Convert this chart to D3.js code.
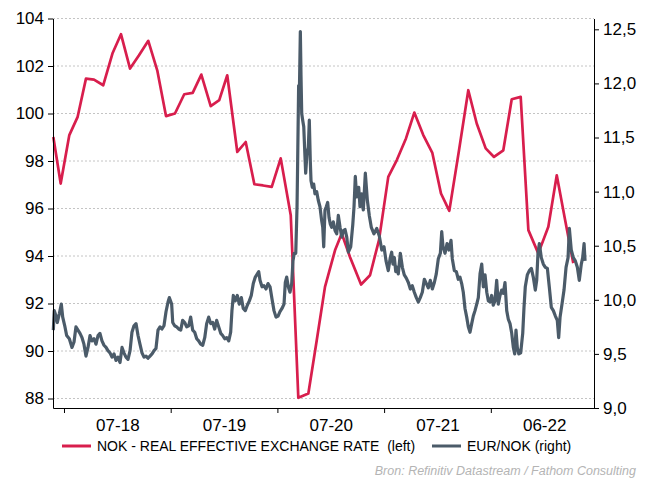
<!DOCTYPE html>
<html>
<head>
<meta charset="utf-8">
<script src="https://cdn.jsdelivr.net/npm/d3@7"></script>
<style>
  body { margin: 0; background: #fff; }
  svg text { font-family: "Liberation Sans", Arial, sans-serif; }
  .plotAxis path, .plotAxis line { stroke: #000; }
  .plotAxis text { font-size: 17px; fill: #000; }
</style>
</head>
<body>
<svg id="chart" width="652" height="479"></svg>
<script>
"use strict";

const width = 652;
const height = 479;
const plot = { left: 53, right: 594, top: 18.5, bottom: 408 };

// axes
const leftTicks = [88, 90, 92, 94, 96, 98, 100, 102, 104];
const rightTicks = [9.0, 9.5, 10.0, 10.5, 11.0, 11.5, 12.0, 12.5];
const rightTickLabels = ["9,0", "9,5", "10,0", "10,5", "11,0", "11,5", "12,0", "12,5"];
const yearTicks = [2018, 2019, 2020, 2021, 2022];
const xLabelPos = [2018.5, 2019.5, 2020.5, 2021.5, 2022.5];
const xLabels = ["07-18", "07-19", "07-20", "07-21", "06-22"];
const seriesNames = ["NOK - REAL EFFECTIVE EXCHANGE RATE  (left)", "EUR/NOK (right)"];

// NOK real effective exchange rate (left axis), time in decimal years
const redT = [2017.900, 2017.969, 2018.050, 2018.128, 2018.206, 2018.281, 2018.368, 2018.456, 2018.534, 2018.619,
    2018.703, 2018.790, 2018.874, 2018.956, 2019.040, 2019.127, 2019.206, 2019.287, 2019.375, 2019.455,
    2019.530, 2019.624, 2019.703, 2019.784, 2019.865, 2019.947, 2020.031, 2020.125, 2020.196, 2020.290,
    2020.368, 2020.446, 2020.540, 2020.603, 2020.680, 2020.784, 2020.868, 2020.952, 2021.039, 2021.118,
    2021.205, 2021.283, 2021.367, 2021.452, 2021.533, 2021.611, 2021.702, 2021.789, 2021.868, 2021.952,
    2022.030, 2022.117, 2022.196, 2022.280, 2022.352, 2022.445, 2022.539, 2022.618, 2022.695, 2022.773];
const redV = [99.01, 97.05, 99.09, 99.86, 101.47, 101.43, 101.19, 102.55, 103.34, 101.89,
    102.45, 103.06, 101.82, 99.89, 100.00, 100.81, 100.87, 101.64, 100.31, 100.56,
    101.61, 98.38, 98.80, 97.02, 96.97, 96.91, 98.11, 95.72, 88.03, 88.21,
    90.43, 92.70, 94.24, 94.95, 93.96, 92.80, 93.19, 94.67, 97.33, 98.03,
    98.95, 100.04, 99.09, 98.34, 96.63, 95.90, 98.45, 100.98, 99.58, 98.53,
    98.17, 98.45, 100.60, 100.70, 95.09, 94.11, 95.23, 97.40, 95.55, 93.70];

// EUR/NOK (right axis)
const grayT = [2017.900, 2017.909, 2017.925, 2017.937, 2017.956, 2017.975, 2017.988, 2018.007, 2018.025, 2018.050,
    2018.075, 2018.094, 2018.112, 2018.131, 2018.150, 2018.169, 2018.187, 2018.206, 2018.225, 2018.244,
    2018.262, 2018.281, 2018.300, 2018.319, 2018.337, 2018.356, 2018.375, 2018.394, 2018.412, 2018.431,
    2018.450, 2018.469, 2018.487, 2018.506, 2018.525, 2018.544, 2018.562, 2018.581, 2018.600, 2018.619,
    2018.637, 2018.656, 2018.675, 2018.694, 2018.712, 2018.731, 2018.750, 2018.769, 2018.787, 2018.806,
    2018.825, 2018.844, 2018.862, 2018.881, 2018.900, 2018.918, 2018.937, 2018.956, 2018.975, 2018.987,
    2019.009, 2019.019, 2019.037, 2019.056, 2019.075, 2019.094, 2019.112, 2019.131, 2019.150, 2019.169,
    2019.187, 2019.206, 2019.225, 2019.244, 2019.262, 2019.281, 2019.300, 2019.319, 2019.337, 2019.356,
    2019.375, 2019.394, 2019.412, 2019.431, 2019.450, 2019.469, 2019.487, 2019.506, 2019.525, 2019.544,
    2019.562, 2019.574, 2019.587, 2019.605, 2019.624, 2019.643, 2019.662, 2019.680, 2019.699, 2019.718,
    2019.737, 2019.755, 2019.774, 2019.793, 2019.812, 2019.825, 2019.837, 2019.856, 2019.874, 2019.893,
    2019.912, 2019.931, 2019.949, 2019.968, 2019.987, 2020.006, 2020.024, 2020.043, 2020.062, 2020.074,
    2020.087, 2020.102, 2020.118, 2020.134, 2020.146, 2020.158, 2020.172, 2020.184, 2020.190, 2020.199,
    2020.205, 2020.215, 2020.221, 2020.228, 2020.237, 2020.247, 2020.256, 2020.265, 2020.277, 2020.290,
    2020.299, 2020.308, 2020.315, 2020.327, 2020.340, 2020.352, 2020.368, 2020.383, 2020.399, 2020.415,
    2020.425, 2020.434, 2020.446, 2020.458, 2020.471, 2020.484, 2020.496, 2020.509, 2020.524, 2020.540,
    2020.556, 2020.571, 2020.587, 2020.603, 2020.618, 2020.634, 2020.650, 2020.665, 2020.687, 2020.706,
    2020.718, 2020.730, 2020.743, 2020.762, 2020.774, 2020.790, 2020.805, 2020.824, 2020.843, 2020.861,
    2020.880, 2020.905, 2020.931, 2020.955, 2020.978, 2020.999, 2021.018, 2021.039, 2021.058, 2021.071,
    2021.083, 2021.096, 2021.109, 2021.121, 2021.133, 2021.152, 2021.171, 2021.189, 2021.208, 2021.227,
    2021.246, 2021.264, 2021.283, 2021.302, 2021.321, 2021.339, 2021.358, 2021.377, 2021.396, 2021.414,
    2021.433, 2021.452, 2021.471, 2021.489, 2021.508, 2021.527, 2021.540, 2021.552, 2021.571, 2021.590,
    2021.608, 2021.627, 2021.639, 2021.658, 2021.677, 2021.695, 2021.711, 2021.727, 2021.742, 2021.758,
    2021.774, 2021.789, 2021.805, 2021.821, 2021.836, 2021.852, 2021.868, 2021.883, 2021.899, 2021.915,
    2021.930, 2021.946, 2021.962, 2021.977, 2021.993, 2022.008, 2022.023, 2022.039, 2022.055, 2022.070,
    2022.086, 2022.102, 2022.117, 2022.133, 2022.149, 2022.164, 2022.180, 2022.196, 2022.211, 2022.224,
    2022.236, 2022.248, 2022.262, 2022.280, 2022.299, 2022.311, 2022.323, 2022.342, 2022.361, 2022.380,
    2022.398, 2022.417, 2022.430, 2022.442, 2022.455, 2022.473, 2022.492, 2022.511, 2022.530, 2022.548,
    2022.567, 2022.586, 2022.605, 2022.623, 2022.636, 2022.649, 2022.667, 2022.686, 2022.705, 2022.724,
    2022.736, 2022.754, 2022.773, 2022.792, 2022.811, 2022.829, 2022.848, 2022.861, 2022.874, 2022.883];
const grayV = [9.72, 9.90, 9.85, 9.79, 9.87, 9.96, 9.84, 9.76, 9.67, 9.64,
    9.56, 9.61, 9.75, 9.72, 9.69, 9.65, 9.59, 9.48, 9.56, 9.67,
    9.62, 9.64, 9.59, 9.67, 9.69, 9.62, 9.58, 9.56, 9.53, 9.51,
    9.47, 9.50, 9.44, 9.47, 9.42, 9.56, 9.51, 9.47, 9.45, 9.53,
    9.70, 9.76, 9.78, 9.67, 9.59, 9.51, 9.47, 9.48, 9.46, 9.48,
    9.50, 9.53, 9.55, 9.72, 9.75, 9.73, 9.76, 9.89, 9.98, 10.02,
    9.96, 9.79, 9.76, 9.75, 9.73, 9.72, 9.81, 9.79, 9.75, 9.76,
    9.84, 9.72, 9.70, 9.64, 9.62, 9.59, 9.58, 9.65, 9.78, 9.84,
    9.78, 9.79, 9.73, 9.81, 9.75, 9.69, 9.67, 9.64, 9.65, 9.62,
    9.70, 9.90, 10.04, 9.99, 10.04, 9.96, 10.02, 9.92, 9.90, 9.95,
    9.99, 10.04, 10.15, 10.21, 10.24, 10.26, 10.18, 10.12, 10.13, 10.10,
    10.15, 10.12, 10.01, 9.90, 9.84, 9.85, 9.89, 9.92, 9.96, 10.16,
    10.21, 10.12, 10.07, 10.15, 10.36, 10.43, 10.43, 10.86, 11.29, 11.98,
    11.85, 12.48, 12.08, 11.72, 11.66, 11.60, 11.38, 11.17, 11.35, 11.41,
    11.66, 11.29, 11.10, 11.04, 11.07, 10.98, 11.00, 10.92, 10.86, 10.73,
    10.67, 10.49, 10.83, 10.86, 10.90, 10.76, 10.70, 10.67, 10.72, 10.64,
    10.61, 10.78, 10.67, 10.58, 10.64, 10.65, 10.58, 10.44, 10.49, 10.69,
    10.86, 11.14, 10.95, 11.04, 10.86, 10.98, 10.83, 11.17, 10.92, 10.78,
    10.67, 10.61, 10.66, 10.59, 10.46, 10.49, 10.36, 10.27, 10.39, 10.44,
    10.33, 10.39, 10.26, 10.30, 10.24, 10.43, 10.30, 10.23, 10.20, 10.16,
    10.10, 10.13, 10.07, 10.02, 9.98, 10.02, 10.07, 10.19, 10.15, 10.11,
    10.18, 10.10, 10.16, 10.24, 10.38, 10.43, 10.63, 10.49, 10.43, 10.52,
    10.46, 10.55, 10.38, 10.27, 10.26, 10.19, 10.21, 10.15, 10.07, 9.92,
    9.84, 9.75, 9.70, 9.78, 9.85, 9.90, 9.96, 10.02, 10.24, 10.33,
    10.12, 10.23, 10.07, 9.99, 9.98, 10.04, 9.95, 9.99, 10.18, 9.96,
    10.04, 10.09, 10.06, 10.16, 9.90, 9.82, 9.78, 9.69, 9.56, 9.50,
    9.72, 9.56, 9.50, 9.51, 9.69, 9.93, 10.12, 10.23, 10.27, 10.29,
    10.21, 10.09, 10.18, 10.43, 10.52, 10.39, 10.33, 10.30, 10.29, 10.12,
    9.93, 9.90, 9.85, 9.81, 9.65, 9.84, 9.96, 10.09, 10.30, 10.39,
    10.66, 10.46, 10.39, 10.36, 10.30, 10.18, 10.33, 10.39, 10.52, 10.36];

const redColor = "#d81e4d";
const grayColor = "#4b5b69";

const svg = d3.select("svg#chart");

const xScale = d3.scaleLinear()
    .domain([2017.897, 2022.967])
    .range([plot.left, plot.right]);
const yLeft = d3.scaleLinear()
    .domain([87.6, 104])
    .range([plot.bottom, plot.top]);
const yRight = d3.scaleLinear()
    .domain([9.0, 12.6])
    .range([plot.bottom, plot.top]);

function drawGrid() {
    svg.append("g")
        .attr("id", "grid")
        .selectAll("line")
        .data(leftTicks)
        .enter()
        .append("line")
        .attr("x1", plot.left)
        .attr("x2", plot.right)
        .attr("y1", d => yLeft(d))
        .attr("y2", d => yLeft(d))
        .attr("stroke", "#c4c4c4")
        .attr("stroke-width", 1)
        .attr("stroke-dasharray", "2,2");
}

function drawAxes() {
    svg.append("g")
        .attr("class", "plotAxis")
        .attr("transform", `translate(${plot.left},0)`)
        .call(d3.axisLeft(yLeft).tickValues(leftTicks).tickSize(5).tickSizeOuter(0).tickPadding(4));
    svg.append("g")
        .attr("class", "plotAxis")
        .attr("transform", `translate(${plot.right},0)`)
        .call(d3.axisRight(yRight).tickValues(rightTicks).tickSize(5).tickSizeOuter(0).tickPadding(4)
            .tickFormat((d, i) => rightTickLabels[i]));
    svg.append("g")
        .attr("class", "plotAxis")
        .attr("transform", `translate(0,${plot.bottom})`)
        .call(d3.axisBottom(xScale).tickValues(yearTicks).tickSize(5).tickSizeOuter(0).tickFormat(""));
    let labels = svg.append("g")
        .attr("class", "plotAxis")
        .attr("transform", `translate(0,${plot.bottom})`)
        .call(d3.axisBottom(xScale).tickValues(xLabelPos).tickSize(0).tickPadding(11)
            .tickFormat((d, i) => xLabels[i]));
    labels.select(".domain").remove();
}

function drawLine(ts, vs, yScale, color, widthPx) {
    let pts = ts.map((t, i) => [t, vs[i]]);
    let line = d3.line()
        .x(d => xScale(d[0]))
        .y(d => yScale(d[1]));
    svg.append("path")
        .datum(pts)
        .attr("fill", "none")
        .attr("stroke", color)
        .attr("stroke-width", widthPx)
        .attr("stroke-linejoin", "round")
        .attr("d", line);
}

function drawLegend() {
    let legend = svg.append("g").attr("id", "legend");
    let items = [
        { x: 62, color: redColor, name: seriesNames[0] },
        { x: 432, color: grayColor, name: seriesNames[1] }
    ];
    items.forEach(it => {
        legend.append("line")
            .attr("x1", it.x).attr("x2", it.x + 29)
            .attr("y1", 446).attr("y2", 446)
            .attr("stroke", it.color)
            .attr("stroke-width", 3);
        legend.append("text")
            .attr("x", it.x + 35)
            .attr("y", 446)
            .attr("dy", "0.36em")
            .attr("font-size", "14px")
            .attr("fill", "#000")
            .style("white-space", "pre")
            .text(it.name);
    });
    svg.append("text")
        .attr("x", 636)
        .attr("y", 475)
        .attr("text-anchor", "end")
        .attr("font-size", "12.5px")
        .attr("font-style", "italic")
        .attr("fill", "#b4b4b4")
        .text("Bron: Refinitiv Datastream / Fathom Consulting");
}

drawGrid();
drawLine(redT, redV, yLeft, redColor, 2.7);
drawLine(grayT, grayV, yRight, grayColor, 3.2);
drawAxes();
drawLegend();
</script>
</body>
</html>
